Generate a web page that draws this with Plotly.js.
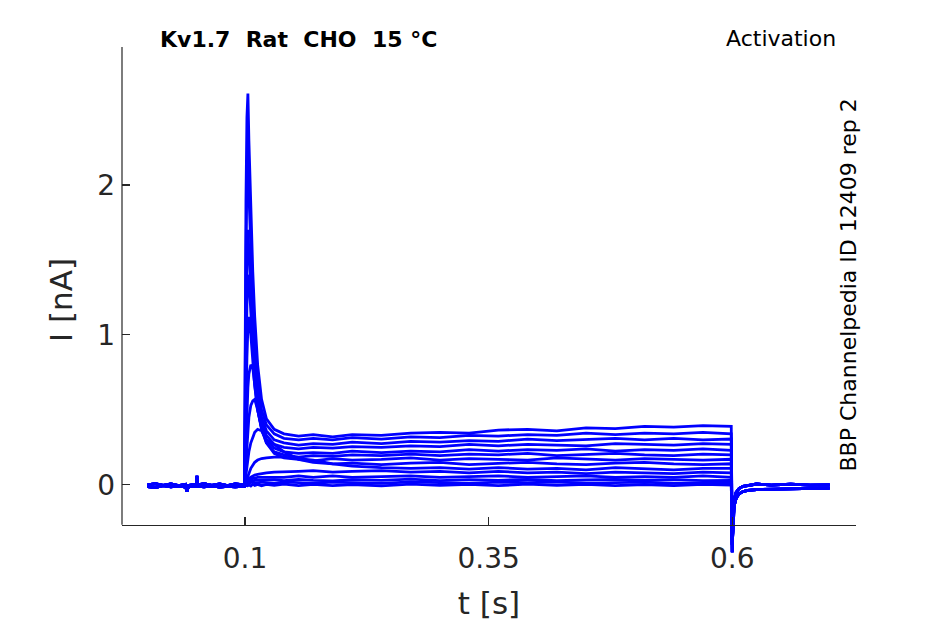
<!DOCTYPE html>
<html>
<head>
<meta charset="utf-8">
<script src="https://cdn.plot.ly/plotly-3.0.1.min.js"></script>
<style>html,body{margin:0;padding:0;background:#fff;}#plot{width:945px;height:624px;}</style>
</head>
<body>
<div id="plot"></div>
<script>
// time samples (s)
const tPre = [0.0, 0.008, 0.016, 0.024, 0.032, 0.039, 0.0405, 0.042, 0.05, 0.0507, 0.0515, 0.058, 0.066, 0.074, 0.082, 0.09, 0.0995];
const tPulse = [0.1, 0.101, 0.102, 0.103, 0.104, 0.106, 0.108, 0.11, 0.113, 0.117, 0.122, 0.13, 0.14, 0.155, 0.17, 0.19, 0.21, 0.24, 0.27, 0.3, 0.33, 0.36, 0.39, 0.42, 0.45, 0.48, 0.51, 0.54, 0.57, 0.599];
const tPost = [0.6, 0.6008, 0.602, 0.604, 0.607, 0.611, 0.616, 0.625, 0.64, 0.66, 0.68, 0.7];

// holding current before the step (nA)
const iPreA = [0.0, 0.008, -0.004, 0.006, -0.005, 0.003, -0.045, -0.005, 0.004, 0.06, 0.0, 0.007, -0.004, 0.006, -0.006, 0.005, 0.0];
const iPreB = [-0.012, -0.018, -0.006, -0.014, -0.008, -0.016, -0.04, -0.012, -0.01, 0.04, -0.01, -0.014, -0.008, -0.016, -0.01, -0.014, -0.01];
// tail current after the step (nA)
const iPostA = [-0.45, -0.22, -0.1, -0.05, -0.025, -0.01, -0.005, 0.005, -0.002, 0.004, -0.002, 0.0];
const iPostB = [-0.40, -0.25, -0.14, -0.09, -0.06, -0.045, -0.038, -0.032, -0.03, -0.026, -0.025, -0.022];

// current during each activation step (nA)
const iStep01 = [0.8, 1.9, 2.45, 2.61, 2.3, 1.8, 1.42, 1.12, 0.8, 0.57, 0.44, 0.37, 0.34, 0.325, 0.335, 0.32, 0.335, 0.33, 0.345, 0.35, 0.345, 0.365, 0.37, 0.36, 0.38, 0.375, 0.39, 0.385, 0.395, 0.39];
const iStep02 = [0.6, 1.5, 2.05, 2.2, 1.95, 1.5, 1.2, 0.95, 0.7, 0.5, 0.4, 0.34, 0.31, 0.3, 0.31, 0.3, 0.315, 0.305, 0.32, 0.315, 0.33, 0.325, 0.335, 0.33, 0.345, 0.335, 0.345, 0.34, 0.35, 0.34];
const iStep03 = [0.4, 1.1, 1.6, 1.7, 1.55, 1.25, 1.0, 0.8, 0.6, 0.45, 0.36, 0.3, 0.28, 0.265, 0.275, 0.27, 0.285, 0.275, 0.29, 0.285, 0.295, 0.29, 0.305, 0.295, 0.3, 0.31, 0.3, 0.31, 0.3, 0.305];
const iStep04 = [0.3, 0.8, 1.2, 1.38, 1.4, 1.15, 0.93, 0.75, 0.56, 0.42, 0.33, 0.27, 0.25, 0.24, 0.25, 0.245, 0.255, 0.25, 0.26, 0.255, 0.27, 0.26, 0.27, 0.265, 0.26, 0.275, 0.27, 0.265, 0.275, 0.27];
const iStep05 = [0.2, 0.5, 0.85, 1.05, 1.12, 1.0, 0.82, 0.66, 0.5, 0.38, 0.3, 0.245, 0.22, 0.21, 0.215, 0.21, 0.225, 0.215, 0.225, 0.22, 0.235, 0.225, 0.235, 0.23, 0.24, 0.225, 0.235, 0.23, 0.24, 0.23];
const iStep06 = [0.1, 0.3, 0.5, 0.65, 0.74, 0.8, 0.78, 0.66, 0.5, 0.37, 0.28, 0.22, 0.2, 0.185, 0.195, 0.19, 0.2, 0.195, 0.205, 0.195, 0.205, 0.2, 0.21, 0.195, 0.2, 0.21, 0.2, 0.195, 0.205, 0.2];
const iStep07 = [0.05, 0.15, 0.28, 0.38, 0.45, 0.53, 0.56, 0.57, 0.5, 0.38, 0.28, 0.21, 0.18, 0.17, 0.16, 0.175, 0.165, 0.17, 0.18, 0.165, 0.175, 0.17, 0.165, 0.18, 0.17, 0.165, 0.175, 0.17, 0.165, 0.17];
const iStep08 = [0.02, 0.07, 0.13, 0.18, 0.22, 0.28, 0.32, 0.35, 0.37, 0.36, 0.3, 0.27, 0.22, 0.17, 0.15, 0.14, 0.145, 0.135, 0.145, 0.15, 0.135, 0.145, 0.15, 0.14, 0.135, 0.145, 0.15, 0.14, 0.135, 0.14];
const iStep09 = [0.0, 0.02, 0.04, 0.06, 0.08, 0.11, 0.13, 0.15, 0.165, 0.175, 0.18, 0.185, 0.185, 0.175, 0.165, 0.14, 0.125, 0.115, 0.11, 0.115, 0.105, 0.115, 0.105, 0.11, 0.1, 0.115, 0.11, 0.1, 0.11, 0.11];
const iStep10 = [0.0, 0.01, 0.02, 0.03, 0.04, 0.05, 0.06, 0.065, 0.07, 0.075, 0.08, 0.085, 0.085, 0.09, 0.095, 0.085, 0.09, 0.095, 0.085, 0.09, 0.08, 0.09, 0.08, 0.085, 0.075, 0.085, 0.08, 0.075, 0.085, 0.08];
const iStep11 = [0.0, 0.01, 0.02, 0.03, 0.035, 0.04, 0.045, 0.045, 0.05, 0.05, 0.05, 0.055, 0.05, 0.06, 0.05, 0.06, 0.05, 0.055, 0.06, 0.05, 0.055, 0.06, 0.05, 0.055, 0.06, 0.05, 0.055, 0.05, 0.06, 0.05];
const iStep12 = [0.0, 0.01, 0.015, 0.02, 0.022, 0.025, 0.028, 0.03, 0.03, 0.032, 0.03, 0.035, 0.028, 0.036, 0.03, 0.026, 0.035, 0.03, 0.038, 0.028, 0.034, 0.03, 0.036, 0.028, 0.032, 0.036, 0.03, 0.035, 0.028, 0.03];
const iStep13 = [0.0, 0.005, 0.01, 0.012, 0.015, 0.015, 0.018, 0.015, 0.012, 0.018, 0.015, 0.01, 0.02, 0.015, 0.01, 0.018, 0.015, 0.01, 0.02, 0.014, 0.01, 0.018, 0.015, 0.02, 0.01, 0.015, 0.018, 0.01, 0.015, 0.015];
const iStep14 = [0.0, -0.01, 0.005, -0.005, 0.0, -0.008, 0.004, -0.004, 0.003, -0.006, 0.002, -0.004, 0.005, -0.006, 0.003, -0.005, 0.002, -0.007, 0.004, -0.004, 0.003, -0.006, 0.004, -0.003, 0.003, -0.006, 0.002, -0.005, 0.003, -0.002];

const xTickVals = [0.1, 0.35, 0.6];
const xTickText = ['0.1', '0.35', '0.6'];
const yTickVals = [0, 1, 2];
const yTickText = ['0', '1', '2'];

const steps = [iStep01, iStep02, iStep03, iStep04, iStep05, iStep06, iStep07, iStep08, iStep09, iStep10, iStep11, iStep12, iStep13, iStep14];
const tAll = tPre.concat(tPulse, tPost);

const traces = steps.map((s, k) => ({
  type: 'scatter', mode: 'lines',
  x: tAll,
  y: (k % 2 === 0 ? iPreA : iPreB).concat(s, k % 2 === 0 ? iPostA : iPostB),
  line: {color: '#0000ff', width: 2.8},
  hoverinfo: 'skip', showlegend: false
}));

// axis box: x axis sits at I = yAxisBottom, data may extend below it
const yAxisBottom = -0.267;
const yRange = [-0.455, 2.92];
const xAxisPos = (yAxisBottom - yRange[0]) / (yRange[1] - yRange[0]);

const font = 'DejaVu Sans, Verdana, sans-serif';
const axisColor = '#262626';
const layout = {
  width: 945, height: 624,
  margin: {l: 122, r: 89, t: 47, b: 71},
  paper_bgcolor: '#fff', plot_bgcolor: '#fff',
  showlegend: false,
  xaxis: {
    range: [-0.0262, 0.727], showgrid: false, zeroline: false,
    anchor: 'free', position: xAxisPos,
    showline: true, linecolor: axisColor, linewidth: 1.2,
    ticks: 'inside', ticklen: 8, tickcolor: axisColor, tickwidth: 1.2,
    tickvals: xTickVals, ticktext: xTickText,
    tickfont: {family: font, size: 28, color: axisColor},
    ticklabelstandoff: 8,
    title: {text: 't [s]', font: {family: font, size: 31, color: axisColor}, standoff: 18}
  },
  yaxis: {
    range: yRange, showgrid: false, zeroline: false,
    showline: false,
    ticks: 'inside', ticklen: 8, tickcolor: axisColor, tickwidth: 1.2,
    tickvals: yTickVals, ticktext: yTickText,
    tickfont: {family: font, size: 28, color: axisColor},
    ticklabelstandoff: 6,
    title: {text: 'I [nA]', font: {family: font, size: 31, color: axisColor}, standoff: 15}
  },
  shapes: [
    {type: 'line', xref: 'paper', yref: 'y', x0: 0, x1: 0, y0: yAxisBottom, y1: yRange[1],
     line: {color: axisColor, width: 1.2}, layer: 'above'}
  ],
  annotations: [
    {xref: 'paper', yref: 'paper', x: 0.049, y: 1.0146, xanchor: 'left', yanchor: 'middle',
     text: '<b>Kv1.7&nbsp;&nbsp;Rat&nbsp;&nbsp;CHO&nbsp;&nbsp;15 °C</b>', showarrow: false,
     font: {family: font, size: 22, color: '#000'}},
    {xref: 'paper', yref: 'paper', x: 0.9755, y: 1.0167, xanchor: 'right', yanchor: 'middle',
     text: 'Activation', showarrow: false,
     font: {family: font, size: 22, color: '#000'}},
    {xref: 'paper', yref: 'paper', x: 0.99, y: 0.53, xanchor: 'center', yanchor: 'middle',
     text: 'BBP Channelpedia ID 12409 rep 2', textangle: -90, showarrow: false,
     font: {family: font, size: 22, color: '#000'}}
  ]
};

Plotly.newPlot('plot', traces, layout, {displayModeBar: false, staticPlot: true});
</script>
</body>
</html>
